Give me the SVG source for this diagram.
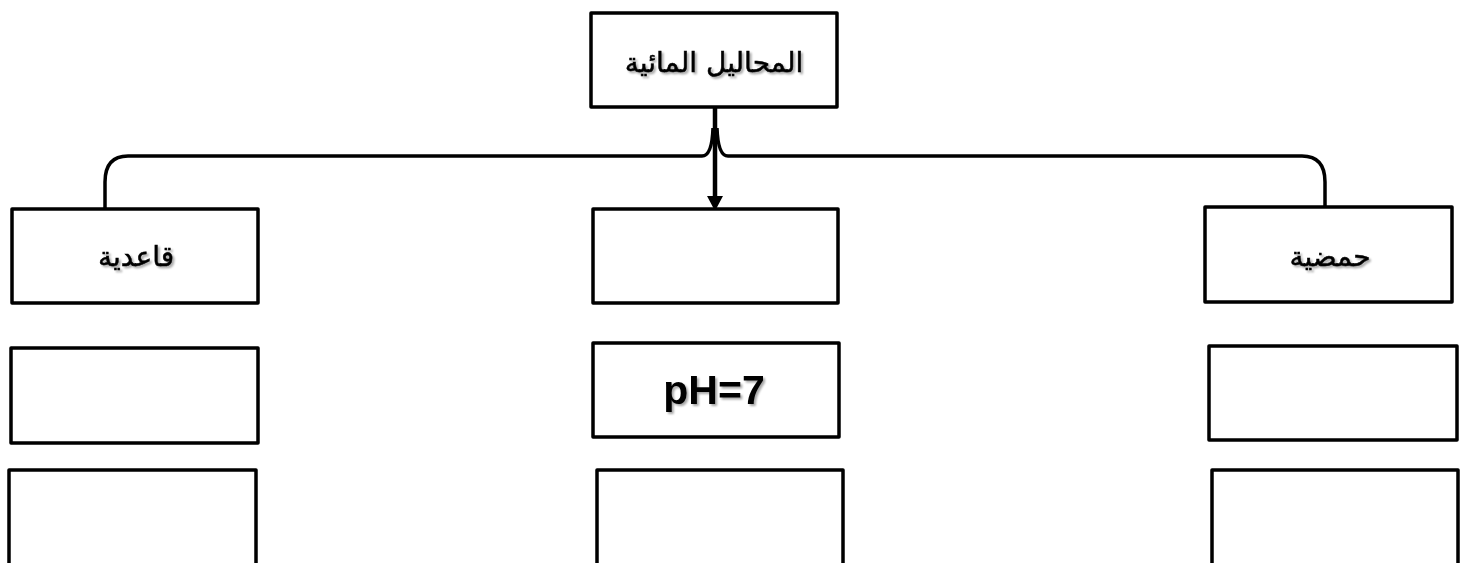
<svg xmlns="http://www.w3.org/2000/svg" width="1465" height="563" viewBox="0 0 1465 563">
<defs>
<filter id="sh" x="-10%" y="-10%" width="120%" height="130%">
<feGaussianBlur in="SourceAlpha" stdDeviation="1.2"/>
<feOffset dx="1.5" dy="1.5" result="b"/>
<feComponentTransfer><feFuncA type="linear" slope="0.35"/></feComponentTransfer>
<feMerge><feMergeNode/><feMergeNode in="SourceGraphic"/></feMerge>
</filter>
</defs>
<style>
.box{fill:#fff;stroke:#000;stroke-width:3.5;stroke-linejoin:round}
.ar{font-family:"DejaVu Sans",sans-serif;font-size:28px;fill:#000;stroke:#000;stroke-width:0.5;text-anchor:middle;dominant-baseline:central}
.en{font-family:"Liberation Sans",Arial,sans-serif;font-weight:bold;font-size:41px;fill:#000;text-anchor:middle;dominant-baseline:central}
.con{fill:none;stroke:#000;stroke-width:3.5}
</style>
<rect width="1465" height="563" fill="#fff"/>
<g id="connectors">
<path class="con" d="M105,209 L105,182 Q105,156 128,156 L702,156 Q712,156 713,128"/>
<path class="con" d="M717,128 Q718,156 728,156 L1302,156 Q1325,156 1325,182 L1325,207"/>
<line x1="715" y1="107" x2="715" y2="198" stroke="#000" stroke-width="4.5"/>
<polygon points="707,196 723,196 715,211" fill="#000"/>
</g>
<g id="node-top">
<rect class="box" x="591" y="13" width="246" height="94"/>
<text class="ar" x="714" y="62" filter="url(#sh)" direction="rtl">المحاليل المائية</text>
</g>
<g id="node-basic">
<rect class="box" x="12" y="209" width="246" height="94"/>
<text class="ar" x="136" y="256" filter="url(#sh)" direction="rtl">قاعدية</text>
</g>
<g id="node-neutral">
<rect class="box" x="593" y="209" width="245" height="94"/>
</g>
<g id="node-acid">
<rect class="box" x="1205" y="207" width="247" height="95"/>
<text class="ar" x="1330" y="256" filter="url(#sh)" direction="rtl">حمضية</text>
</g>
<g id="node-basic-2">
<rect class="box" x="11" y="348" width="247" height="95"/>
</g>
<g id="node-neutral-2">
<rect class="box" x="593" y="343" width="246" height="94"/>
<text class="en" x="714" y="390" filter="url(#sh)">pH=7</text>
</g>
<g id="node-acid-2">
<rect class="box" x="1209" y="346" width="248" height="94"/>
</g>
<g id="node-basic-3">
<rect class="box" x="9" y="470" width="247" height="110"/>
</g>
<g id="node-neutral-3">
<rect class="box" x="597" y="470" width="246" height="110"/>
</g>
<g id="node-acid-3">
<rect class="box" x="1212" y="470" width="246" height="110"/>
</g>
</svg>
